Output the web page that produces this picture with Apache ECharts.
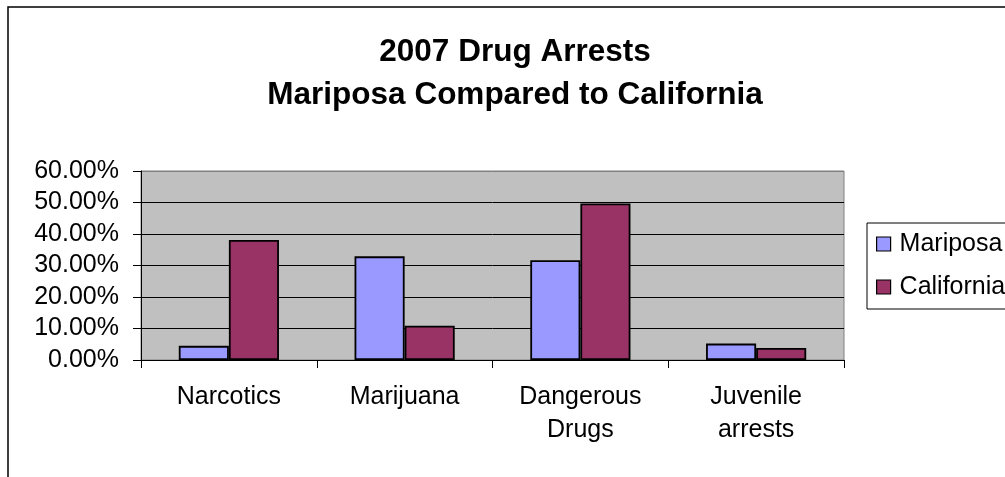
<!DOCTYPE html>
<html>
<head>
<meta charset="utf-8">
<style>
  html, body { margin: 0; padding: 0; background: #fff; }
  #chart { width: 1005px; height: 477px; }
</style>
<script src="https://cdn.jsdelivr.net/npm/echarts@6/dist/echarts.min.js"></script>
</head>
<body>
<div id="chart"></div>
<script>
// Share of drug arrests by offence type, 2007 (percent)
const categories = ['Narcotics', 'Marijuana', 'Dangerous\nDrugs', 'Juvenile\narrests'];
const mariposa = [4.5, 32.9, 31.7, 5.2];
const california = [38.1, 10.9, 49.7, 3.8];
const yTicks = [0, 10, 20, 30, 40, 50, 60];

const FONT = '"Liberation Sans", Arial, sans-serif';

const chart = echarts.init(document.getElementById('chart'), null, { renderer: 'canvas' });

chart.setOption({
  animation: false,
  backgroundColor: '#ffffff',
  textStyle: { fontFamily: FONT },
  title: {
    text: '2007 Drug Arrests\nMariposa Compared to California',
    left: 510,
    top: 26,
    textAlign: 'center',
    textStyle: {
      fontFamily: FONT,
      fontSize: 31.5,
      fontWeight: 'bold',
      color: '#000',
      lineHeight: 43
    }
  },
  graphic: [{
    type: 'rect',
    silent: true,
    z: -1,
    shape: { x: 8, y: 7, width: 1100, height: 600 },
    style: { fill: 'none', stroke: '#000', lineWidth: 1.5 }
  }],
  legend: {
    orient: 'vertical',
    left: 867,
    top: 223,
    padding: [8, 12, 9, 9],
    itemGap: 17,
    itemWidth: 14,
    itemHeight: 14,
    icon: 'rect',
    borderColor: '#000',
    borderWidth: 1,
    backgroundColor: '#fff',
    itemStyle: { borderColor: '#000', borderWidth: 1.2 },
    textStyle: {
      fontFamily: FONT,
      fontSize: 25,
      color: '#000',
      lineHeight: 26,
      padding: [0, 0, 0, 4]
    },
    data: ['Mariposa', 'California']
  },
  grid: {
    left: 141,
    right: 161,
    top: 171,
    bottom: 117,
    show: true,
    backgroundColor: '#C0C0C0',
    borderColor: '#808080',
    borderWidth: 1
  },
  xAxis: {
    type: 'category',
    data: categories,
    axisLine: { lineStyle: { color: '#000', width: 1 } },
    axisTick: { show: true, length: 8, lineStyle: { color: '#000' } },
    axisLabel: {
      fontFamily: FONT,
      fontSize: 25,
      color: '#000',
      lineHeight: 32.5,
      margin: 21,
      interval: 0
    }
  },
  yAxis: {
    type: 'value',
    min: yTicks[0],
    max: yTicks[yTicks.length - 1],
    interval: 10,
    axisLine: { show: true, lineStyle: { color: '#000', width: 1 } },
    axisTick: { show: true, inside: false, length: 8, lineStyle: { color: '#000' } },
    axisLabel: {
      fontFamily: FONT,
      fontSize: 25,
      color: '#000',
      margin: 22,
      formatter: v => v.toFixed(2) + '%'
    },
    splitLine: {
      show: true,
      lineStyle: {
        color: ['#000', '#000', '#000', '#000', '#000', '#000', '#808080'],
        width: 1
      }
    }
  },
  series: [
    {
      name: 'Mariposa',
      type: 'bar',
      data: mariposa,
      barGap: '0%',
      barCategoryGap: '43%',
      itemStyle: { color: '#9999FF', borderColor: '#000', borderWidth: 1.8 }
    },
    {
      name: 'California',
      type: 'bar',
      data: california,
      barGap: '0%',
      barCategoryGap: '43%',
      itemStyle: { color: '#993366', borderColor: '#000', borderWidth: 1.8 }
    }
  ]
});
</script>
</body>
</html>
